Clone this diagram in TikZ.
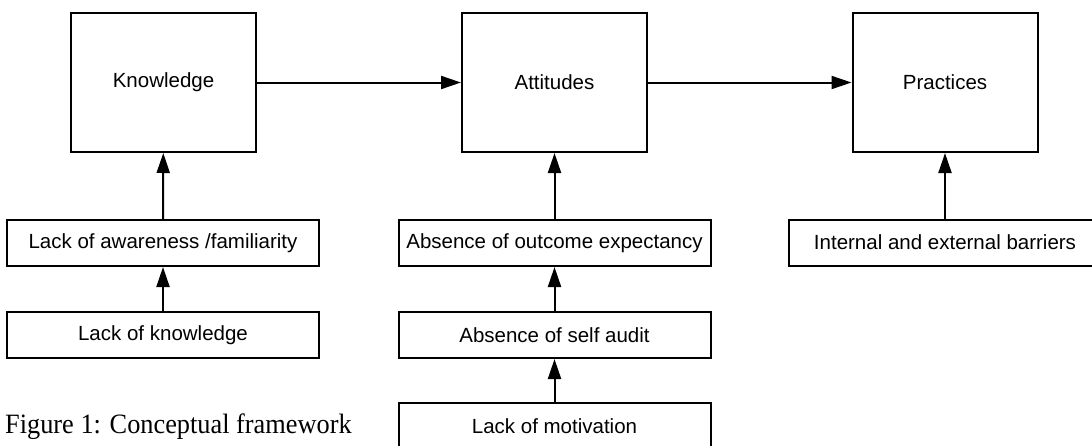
\documentclass[tikz,border=0pt]{standalone}
\usepackage{fontspec}
\setmainfont{Liberation Serif}
\setsansfont{Liberation Sans}
\usetikzlibrary{arrows.meta}
\tikzset{
  bigbox/.style={draw, line width=2pt, rectangle, inner sep=0pt, minimum width=185pt, minimum height=139pt, font=\sffamily\fontsize{20.5}{24}\selectfont},
  smallbox/.style={draw, line width=2pt, rectangle, inner sep=0pt, minimum width=312pt, minimum height=46pt, font=\sffamily\fontsize{20.5}{24}\selectfont},
  link/.style={line width=2pt, -{Triangle[length=20pt, width=13pt]}}
}
\begin{document}
\begin{tikzpicture}[x=1pt, y=-1pt]
\useasboundingbox (0,0) rectangle (1092,445);
\clip (0,0) rectangle (1092,445);
\node[bigbox] (K) at (163.5,82.5) {Knowledge};
\node[bigbox] (A) at (554.5,82.5) {Attitudes};
\node[bigbox] (P) at (945,82.5) {Practices};
\node[smallbox] (AW) at (163,243) {Lack of awareness /familiarity};
\node[smallbox] (LK) at (163,335) {Lack of knowledge};
\node[smallbox] (OE) at (554.5,243) {Absence of outcome expectancy};
\node[smallbox] (SA) at (554.5,335) {Absence of self audit};
\node[smallbox] (LM) at (554.5,426) {Lack of motivation};
\node[smallbox] (IB) at (945,242.5) {Internal and external barriers};
\node[anchor=base west, inner sep=0pt, font=\fontsize{28}{32}\selectfont] (cap) at (5,433) {\scalebox{0.94}[1]{Figure 1: Conceptual framework}};
\draw[link] (K) -- (A);
\draw[link] (A) -- (P);
\draw[link] (AW) -- (K);
\draw[link] (LK) -- (AW);
\draw[link] (OE) -- (A);
\draw[link] (SA) -- (OE);
\draw[link] (LM) -- (SA);
\draw[link] (IB) -- (P);
\end{tikzpicture}
\end{document}
